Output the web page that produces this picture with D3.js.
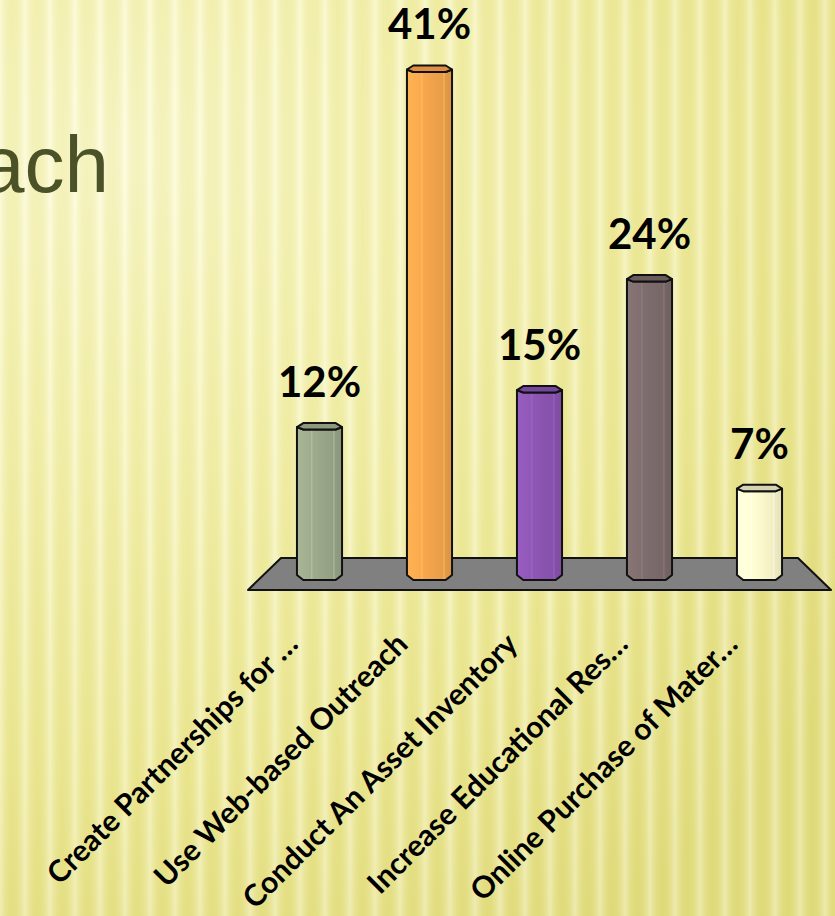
<!DOCTYPE html>
<html>
<head>
<meta charset="utf-8">
<script src="https://cdn.jsdelivr.net/npm/d3@7"></script>
<style>
  body { margin: 0; }
  svg { display: block; }
</style>
</head>
<body>
<div id="chart"></div>
<script>
// Data
const categories = [
  'Create Partnerships for \u2026',
  'Use Web-based Outreach',
  'Conduct An Asset Inventory',
  'Increase Educational Res\u2026',
  'Online Purchase of Mater\u2026'
];
const values = [12, 41, 15, 24, 7];
const valueLabels = ['12%', '41%', '15%', '24%', '7%'];
const titleText = 'Outreach';

// palette (front, top)
const barColors = ['#9aa78a', '#f2a44c', '#8b55b1', '#7c6b6c', '#fdf9ce'];
const topColors = ['#8c997d', '#df8f3f', '#7747a0', '#6a5a5b', '#d7d3b0'];

const width = 835, height = 916;
const baseY = 575;

let x = d3.scaleBand().domain(categories).range([264.5, 814.5]);
let y = d3.scaleLinear().domain([0, 45]).range([baseY, baseY - 45 * 12.33]);

let svg = d3.select('#chart').append('svg')
  .attr('width', width)
  .attr('height', height);

let defs = svg.append('defs');

// background gradient
let bg = defs.append('radialGradient')
  .attr('id', 'bg')
  .attr('gradientUnits', 'userSpaceOnUse')
  .attr('cx', 120).attr('cy', 150).attr('r', 900);
[[0, '#fcfbd2'], [0.25, '#f8f6ba'], [0.7, '#eeea97'], [1, '#e3de80']].forEach(s => {
  bg.append('stop').attr('offset', s[0]).attr('stop-color', s[1]);
});

// soft vertical stripes
let sg = defs.append('linearGradient').attr('id', 'stripe');
[[0, '#ffffff', 0.36], [0.45, '#c8c050', 0.14], [0.55, '#c8c050', 0.14], [1, '#ffffff', 0.36]].forEach(s => {
  sg.append('stop').attr('offset', s[0]).attr('stop-color', s[1]).attr('stop-opacity', s[2]);
});
defs.append('pattern')
  .attr('id', 'stripes')
  .attr('patternUnits', 'userSpaceOnUse')
  .attr('width', 25).attr('height', 916)
  .append('rect')
  .attr('width', 25).attr('height', 916)
  .attr('fill', 'url(#stripe)');

svg.append('rect').attr('width', width).attr('height', height).attr('fill', 'url(#bg)');
svg.append('rect').attr('width', width).attr('height', height).attr('fill', 'url(#stripes)');

// slide title (cut off at the left)
svg.append('text')
  .attr('x', 109)
  .attr('y', 192)
  .attr('text-anchor', 'end')
  .attr('style', 'font-family: "Liberation Sans", Arial, sans-serif; font-size: 80px; fill: #4b5228')
  .text(titleText);

// floor
let r0 = x.range();
let floorTop = 558, floorBot = 590, skew = 16.5;
svg.append('path')
  .attr('d', 'M' + (r0[0] + skew) + ',' + floorTop +
    'L' + (r0[1] - skew) + ',' + floorTop +
    'L' + (r0[1] + skew) + ',' + floorBot +
    'L' + (r0[0] - skew) + ',' + floorBot + 'Z')
  .attr('fill', '#808080')
  .attr('stroke', '#111')
  .attr('stroke-width', 2)
  .attr('stroke-linejoin', 'round');

// bar gradients
barColors.forEach(function(c, i) {
  let g = defs.append('linearGradient').attr('id', 'bar' + i);
  let base = d3.color(c);
  [[0, base.brighter(0.25)], [0.3, base.brighter(0.1)], [0.5, base], [0.78, base.darker(0.12)], [1, base.darker(0.3)]]
    .forEach(s => g.append('stop').attr('offset', s[0]).attr('stop-color', s[1].formatHex()));
});

let bw = x.bandwidth() * 0.41;
let rr = bw / 2, k = rr * 0.72, dTop = 4, fTop = 2.5, dBot = 5;

let bars = svg.selectAll('.bar')
  .data(values)
  .enter().append('g')
  .attr('class', 'bar');

bars.append('path')
  .attr('d', function(d, i) {
    let cx = x(categories[i]) + x.bandwidth() / 2, t = y(d);
    return 'M' + (cx - rr) + ',' + t + 'L' + (cx - k) + ',' + (t + fTop) +
      'L' + (cx + k) + ',' + (t + fTop) + 'L' + (cx + rr) + ',' + t +
      'L' + (cx + rr) + ',' + baseY + 'L' + (cx + k) + ',' + (baseY + dBot) +
      'L' + (cx - k) + ',' + (baseY + dBot) + 'L' + (cx - rr) + ',' + baseY + 'Z';
  })
  .attr('fill', (d, i) => 'url(#bar' + i + ')')
  .attr('stroke', '#111')
  .attr('stroke-width', 2)
  .attr('stroke-linejoin', 'round');

// thin highlight lines on the front
[0.33, 0.82].forEach(function(p) {
  bars.append('line')
    .attr('x1', (d, i) => x(categories[i]) + x.bandwidth() / 2 - rr + p * bw)
    .attr('x2', (d, i) => x(categories[i]) + x.bandwidth() / 2 - rr + p * bw)
    .attr('y1', d => y(d) + fTop + 1)
    .attr('y2', baseY + dBot - 1)
    .attr('stroke', (d, i) => d3.color(barColors[i]).brighter(0.6).formatHex())
    .attr('stroke-width', 1)
    .attr('opacity', 0.7);
});

// top caps
bars.append('path')
  .attr('d', function(d, i) {
    let cx = x(categories[i]) + x.bandwidth() / 2, t = y(d);
    return 'M' + (cx - rr) + ',' + t + 'L' + (cx - k) + ',' + (t - dTop) +
      'L' + (cx + k) + ',' + (t - dTop) + 'L' + (cx + rr) + ',' + t +
      'L' + (cx + k) + ',' + (t + fTop) + 'L' + (cx - k) + ',' + (t + fTop) + 'Z';
  })
  .attr('fill', (d, i) => topColors[i])
  .attr('stroke', '#111')
  .attr('stroke-width', 2)
  .attr('stroke-linejoin', 'round');

// value labels
svg.selectAll('.value')
  .data(values)
  .enter().append('text')
  .attr('class', 'value')
  .attr('x', (d, i) => x(categories[i]) + x.bandwidth() / 2)
  .attr('y', d => y(d) - 30)
  .attr('text-anchor', 'middle')
  .attr('style', 'font-family: Lato, "Open Sans", sans-serif; font-weight: bold; font-size: 42px; fill: #000')
  .text((d, i) => valueLabels[i]);

// category labels
svg.selectAll('.cat')
  .data(categories)
  .enter().append('text')
  .attr('class', 'cat')
  .attr('text-anchor', 'end')
  .attr('transform', d => 'translate(' + (x(d) + x.bandwidth() / 2 - 20) + ',646) rotate(-45)')
  .attr('style', 'font-family: Lato, "Open Sans", sans-serif; font-weight: bold; font-size: 30px; fill: #000')
  .text(d => d);
</script>
</body>
</html>
